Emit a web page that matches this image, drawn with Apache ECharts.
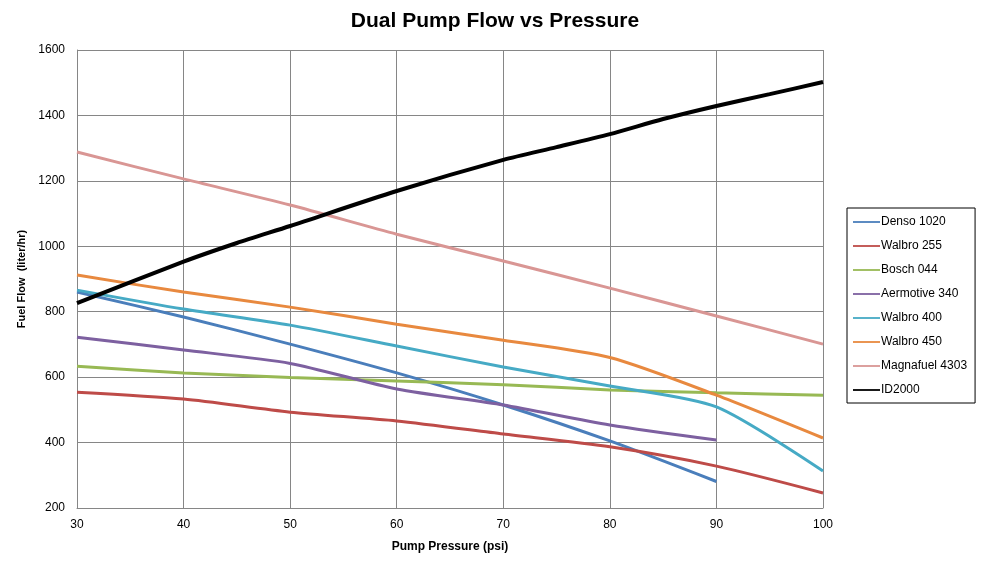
<!DOCTYPE html>
<html><head><meta charset="utf-8">
<script src="https://cdn.jsdelivr.net/npm/echarts@6/dist/echarts.min.js"></script>
<style>html,body{margin:0;padding:0;background:#fff}#c{width:983px;height:576px}</style>
</head><body><div id="c"></div>
<script>
const xTicks = [30,40,50,60,70,80,90,100];
const seriesNames = ['Denso 1020','Walbro 255','Bosch 044','Aermotive 340','Walbro 400','Walbro 450','Magnafuel 4303','ID2000'];
const colors = ['#4A7EBB','#BE4B48','#98B954','#7D60A0','#46AAC5','#E8893F','#D99694','#000000'];
const denso1020 = [[30,860],[40,784],[50,701],[60,613],[70,515],[80,405],[90,281]];
const walbro255 = [[30,554],[40,533],[50,493],[60,466],[70,426],[80,387],[90,328],[100,246]];
const bosch044 = [[30,633],[40,613],[50,599],[60,588],[70,577],[80,561],[90,552],[100,545]];
const aermotive340 = [[30,722],[40,683],[50,642],[60,564],[70,515],[80,454],[90,408]];
const walbro400 = [[30,866],[40,808],[50,759],[60,695],[70,631],[80,573],[90,509],[100,313]];
const walbro450 = [[30,912],[40,860],[50,814],[60,762],[70,713],[80,660],[90,545],[100,414]];
const magnafuel4303 = [[30,1288],[40,1206],[50,1126],[60,1037],[70,955],[80,872],[90,787],[100,701]];
const id2000 = [[30,826],[40,953],[45,1010],[50,1062],[60,1169],[70,1264],[75,1303],[80,1343],[85,1389],[90,1429],[95,1465],[100,1502]];
const allData = [denso1020,walbro255,bosch044,aermotive340,walbro400,walbro450,magnafuel4303,id2000];

const font = 'Liberation Sans Narrow, Liberation Sans, sans-serif';
const chart = echarts.init(document.getElementById('c'), null, {renderer:'canvas'});
chart.setOption({
  animation:false,
  backgroundColor:'#fff',
  title:{text:'Dual Pump Flow vs Pressure',left:490,top:6,textAlign:'center',
    textStyle:{fontFamily:font,fontSize:21,fontWeight:'bold',color:'#000'}},
  grid:{left:77,right:160,top:50,bottom:68},
  legend:{orient:'vertical',left:847,top:208,width:128,height:195,padding:[8,8,7,6],itemGap:12,
    borderColor:'#000',borderWidth:1,itemWidth:27,itemHeight:14,icon:'path://M0,6 L30,6 L30,8 L0,8 Z',
    textStyle:{fontFamily:font,fontSize:12,color:'#000',padding:[0,0,0,-4]},
    data:seriesNames},
  xAxis:{type:'value',min:30,max:100,interval:10,
    name:'Pump Pressure (psi)',nameLocation:'middle',nameGap:33,
    nameTextStyle:{fontFamily:font,fontSize:12,fontWeight:'bold',color:'#000'},
    axisLine:{lineStyle:{color:'#868686'}},axisTick:{show:false},
    axisLabel:{fontFamily:font,fontSize:12,color:'#000',margin:11,formatter:v=>String(v)},
    splitLine:{show:true,lineStyle:{color:'#868686',width:1}}},
  yAxis:{type:'value',min:200,max:1600,interval:200,
    name:'Fuel Flow  (liter/hr)',nameLocation:'middle',nameGap:47,
    nameTextStyle:{fontFamily:font,fontSize:11,fontWeight:'bold',color:'#000'},
    axisLine:{show:true,lineStyle:{color:'#868686'}},axisTick:{show:false},
    axisLabel:{fontFamily:font,fontSize:12,color:'#000',margin:12,formatter:v=>String(v)},
    splitLine:{show:true,lineStyle:{color:'#868686',width:1}}},
  series: seriesNames.map((n,i)=>({
    name:n,type:'line',data:allData[i],smooth:0.25,showSymbol:false,symbol:'none',
    lineStyle:{color:colors[i],width:i===7?4:3},itemStyle:{color:colors[i]}
  }))
});
</script></body></html>
